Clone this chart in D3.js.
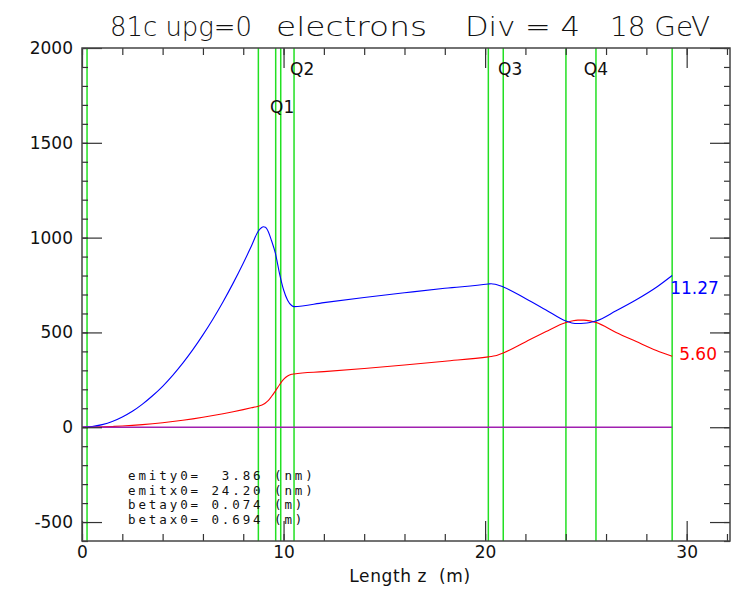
<!DOCTYPE html>
<html><head><meta charset="utf-8">
<script src="https://cdn.jsdelivr.net/npm/d3@7"></script>
<style>body{margin:0;background:#fff}svg{display:block}text{font-family:"DejaVu Sans",sans-serif;fill:#111}</style>
</head><body>
<svg id="c" width="745" height="594"></svg>
<script>
// ---- data ----
const zPos =  [0,0.5,1,1.5,2,2.5,3,3.5,4,4.5,5,5.5,6,6.5,7,7.5,8,8.4,8.75,8.9,9.0,9.1,9.25,9.4,9.6,9.8,10.0,10.2,10.4,10.52,12,14,16,18,20.16,20.3,20.5,20.7,20.9,22,23,24.01,24.3,24.6,24.9,25.2,25.5,26.5,27.5,28.5,29.28];
const betaY = [0.07,3.5,13.6,30,54,84,122,166,216,274,338,409,487,571,662,760,865,954,1035,1052,1057,1055,1030,985,915,810,725,670,642,636,657,684,709,733,755,757,754,748,740,679,620,560,550,547,548,552,560,614,672,738,800];
const betaX = [0.7,1.1,2.1,4,6.5,9.7,13.7,18.3,23.7,29.9,36.7,44.3,52.6,61.6,71.3,81.7,93,102.4,111,116,121,128,142,162,192,224,252,270,279,281,293,310,328,348,371,373,377,384,392,450,503,552,560,565,565,561,553,500,452,405,374];
const etaZ = [0, 29.28];
const etaV = [0, 0];
const elemEdges = [0.25,8.75,9.61,9.86,10.52,20.16,20.90,24.01,25.50,29.28];
const quadNames = ["Q1","Q2","Q3","Q4"];
const quadZ = [9.33,10.32,20.64,24.9];
const quadRow = [1,0,0,0];
const yMajor = [-500,0,500,1000,1500,2000];
const xMajor = [0,10,20,30];
const endLabelY = "11.27";
const endLabelX = "5.60";
const titleParts = ["81c upg=0","electrons","Div = 4","18 GeV"];
const infoLines = ["emity0=  3.86 (nm)","emitx0= 24.20 (nm)","betay0= 0.074 (m)","betax0= 0.694 (m)"];

// ---- layout ----
const svg = d3.select("#c");
const L=82,R=730,T=48,B=541;
const x = d3.scaleLinear().domain([0,32.15]).range([L,R]);
const y = d3.scaleLinear().domain([-600,2000]).range([B,T]);

// element edges
svg.append("g").selectAll("line").data(elemEdges).join("line")
  .attr("x1",d=>x(d)).attr("x2",d=>x(d)).attr("y1",T).attr("y2",B)
  .attr("stroke","#22e022").attr("stroke-width",1.5);

// curves
const line = d3.line().x((d,i)=>x(zPos[i])).y(d=>y(d)).curve(d3.curveMonotoneX);
svg.append("path").datum(betaX).attr("d",line).attr("fill","none").attr("stroke","#ff0000").attr("stroke-width",1.1);
svg.append("path").datum(betaY).attr("d",line).attr("fill","none").attr("stroke","#0000ff").attr("stroke-width",1.1);
svg.append("path").datum(etaV).attr("d",d3.line().x((d,i)=>x(etaZ[i])).y(d=>y(d)))
  .attr("fill","none").attr("stroke","#a020b0").attr("stroke-width",1.6);

// axes
const minorY = d3.range(-600,2001,100);
const minorX = d3.range(0,32.1,2);
const fmt = d=>String(d).replace("\u2212","-");
function styleAxis(g){ g.select(".domain").remove(); g.selectAll("line").attr("stroke","#333").attr("stroke-width",1.2); }
svg.append("g").attr("transform",`translate(${L},0)`).call(d3.axisLeft(y).tickValues(minorY).tickSize(-6).tickFormat("")).call(styleAxis);
svg.append("g").attr("transform",`translate(${R},0)`).call(d3.axisRight(y).tickValues(minorY).tickSize(-6).tickFormat("")).call(styleAxis);
svg.append("g").attr("transform",`translate(${R},0)`).call(d3.axisRight(y).tickValues(yMajor).tickSize(-20).tickFormat("")).call(styleAxis);
const gl = svg.append("g").attr("transform",`translate(${L},0)`).call(d3.axisLeft(y).tickValues(yMajor).tickSize(-20).tickPadding(9).tickFormat(fmt)).call(styleAxis);
gl.selectAll("text").attr("font-size",17).attr("font-family","DejaVu Sans").attr("fill","#111");
svg.append("g").attr("transform",`translate(0,${B})`).call(d3.axisBottom(x).tickValues(minorX).tickSize(-7).tickFormat("")).call(styleAxis);
svg.append("g").attr("transform",`translate(0,${T})`).call(d3.axisTop(x).tickValues(minorX).tickSize(-7).tickFormat("")).call(styleAxis);
svg.append("g").attr("transform",`translate(0,${T})`).call(d3.axisTop(x).tickValues(xMajor).tickSize(-20).tickFormat("")).call(styleAxis);
const gb = svg.append("g").attr("transform",`translate(0,${B})`).call(d3.axisBottom(x).tickValues(xMajor).tickSize(-20).tickPadding(5).tickFormat(fmt)).call(styleAxis);
gb.selectAll("text").attr("font-size",17).attr("font-family","DejaVu Sans").attr("fill","#111");

// frame
svg.append("rect").attr("x",L).attr("y",T).attr("width",R-L).attr("height",B-T)
  .attr("fill","none").attr("stroke","#444").attr("stroke-width",1.5);

// quad labels
svg.append("g").selectAll("text").data(quadNames).join("text")
  .attr("x",(d,i)=>x(quadZ[i])).attr("y",(d,i)=>quadRow[i]?113:75)
  .attr("font-size",17).text(d=>d);

// end labels
svg.append("text").attr("x",x(29.28)-2).attr("y",y(betaY[betaY.length-1])+18).attr("font-size",17).style("fill","#0000ff").text(endLabelY);
svg.append("text").attr("x",x(29.28)+7).attr("y",y(betaX[betaX.length-1])+4).attr("font-size",17).style("fill","#ff0000").text(endLabelX);

// title
const tPos=[[110,142],[276,151],[465,115],[610,100]];
svg.append("g").selectAll("text").data(titleParts).join("text")
  .attr("x",(d,i)=>tPos[i][0]).attr("y",36).attr("font-size",27)
  .attr("textLength",(d,i)=>tPos[i][1]).attr("lengthAdjust","spacingAndGlyphs")
  .style("font-weight",300).text(d=>d);

// info text
svg.append("g").selectAll("text").data(infoLines).join("text")
  .attr("x",128).attr("y",(d,i)=>480+i*14.6)
  .attr("font-size",12.5)
  .style("font-family","DejaVu Sans Mono").style("white-space","pre")
  .attr("letter-spacing",2.9).text(d=>d);

// x label
svg.append("text").attr("x",410).attr("y",582).attr("text-anchor","middle").attr("font-size",17)
  .attr("letter-spacing",0.6).style("white-space","pre").text("Length z  (m)");
</script>
</body></html>
